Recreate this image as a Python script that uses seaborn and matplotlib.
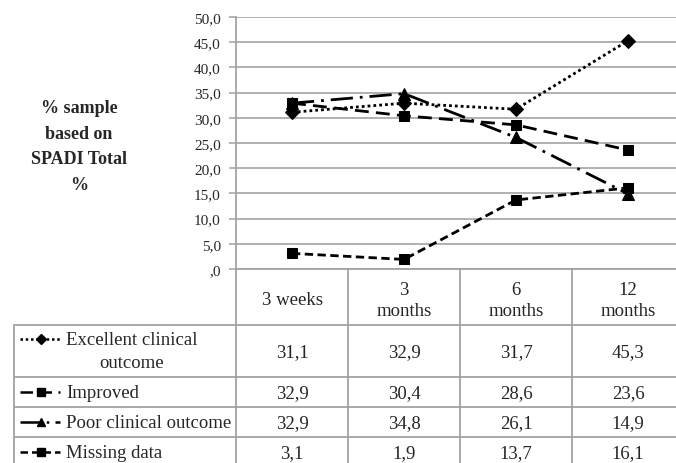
import numpy as np
import pandas as pd
import matplotlib
matplotlib.use("Agg")
import matplotlib.pyplot as plt
from matplotlib.lines import Line2D
import seaborn as sns

# ---- data ----
categories = ["3 weeks", "3\nmonths", "6\nmonths", "12\nmonths"]
series_names = ["Excellent clinical\noutcome", "Improved", "Poor clinical outcome", "Missing data"]
excellent = [31.1, 32.9, 31.7, 45.3]
improved = [32.9, 30.4, 28.6, 23.6]
poor = [32.9, 34.8, 26.1, 14.9]
missing = [3.1, 1.9, 13.7, 16.1]
ytick_values = [0, 5, 10, 15, 20, 25, 30, 35, 40, 45, 50]
ytick_labels = [",0", "5,0", "10,0", "15,0", "20,0", "25,0", "30,0", "35,0", "40,0", "45,0", "50,0"]
ylabel_text = "% sample\nbased on\nSPADI Total\n%"

values = [excellent, improved, poor, missing]
keys = ["exc", "imp", "poor", "miss"]
df = pd.DataFrame({
    "pos": np.tile(np.arange(len(categories)), len(keys)),
    "value": np.concatenate(values),
    "series": np.repeat(keys, len(categories)),
})

sns.set_style("white")
plt.rcParams["font.family"] = ["Liberation Serif", "DejaVu Serif"]

W, H = 676, 464
fig = plt.figure(figsize=(W / 100, H / 100), dpi=100)
GRAY = "#a3a3a3"

# plot area (pixel geometry of the reference)
x0, x1, ytop, ybot = 236, 684, 18, 270
ax = fig.add_axes([x0 / W, (H - ybot) / H, (x1 - x0) / W, (ybot - ytop) / H])

dash_map = {"exc": (1, 1.1), "imp": (5, 2.6), "poor": (8, 2.5, 1, 2.5), "miss": (3, 1.6)}
marker_map = {"exc": "D", "imp": "s", "poor": "^", "miss": "s"}
msize = {"exc": 7, "imp": 7, "poor": 8, "miss": 7}
LW = 2.0

sns.lineplot(data=df, x="pos", y="value", hue="series", style="series",
             palette=["black"] * 4, dashes=dash_map, markers=marker_map,
             markersize=7, markeredgecolor="black", lw=LW, legend=False, ax=ax)
for line, k in zip(ax.get_lines(), keys):
    line.set_markersize(msize[k])

ax.set_xlim(-0.5, len(categories) - 0.5)
ax.set_ylim(0, 50)
ax.set_yticks(ytick_values)
ax.set_yticklabels(ytick_labels, fontsize=11)
ax.set_xticks([])
ax.set_xlabel("")
ax.set_ylabel("")
ax.yaxis.grid(True, color=GRAY, lw=1.2)
ax.xaxis.grid(False)
ax.tick_params(axis="y", length=5, width=1.1, color=GRAY, direction="out", pad=6, left=True)
for s in ["top", "right"]:
    ax.spines[s].set_visible(False)
for s in ["left", "bottom"]:
    ax.spines[s].set_color(GRAY)
    ax.spines[s].set_linewidth(1.3)

fig.text(79 / W, 1 - 147 / H, ylabel_text, ha="center", va="center",
         fontsize=13, fontweight="bold", linespacing=1.65)

# ---- data table drawn beneath the plot ----
tx = fig.add_axes([0, 0, 1, 1], zorder=-1)
tx.set_xlim(0, W)
tx.set_ylim(H, 0)
tx.axis("off")

col_edges = [ax.transData.transform((i - 0.5, 0))[0] for i in range(len(categories) + 1)]
col_centers = [(a + b) / 2 for a, b in zip(col_edges[:-1], col_edges[1:])]
left_edge = 14
header = (270, 326)
rows = [(326, 378), (378, 408), (408, 438), (438, 468)]

tcol = GRAY
tlw = 1.3
# horizontal lines
for (top, _b) in rows:
    tx.plot([left_edge, col_edges[-1]], [top, top], color=tcol, lw=tlw)
tx.plot([left_edge, col_edges[-1]], [rows[-1][1], rows[-1][1]], color=tcol, lw=tlw)
# vertical lines
for xe in col_edges:
    tx.plot([xe, xe], [header[0], H + 10], color=tcol, lw=tlw)
tx.plot([left_edge, left_edge], [header[1], H + 10], color=tcol, lw=tlw)

FS = 13.5
for xc, lab in zip(col_centers, categories):
    tx.text(xc, 301, lab, ha="center", va="center",
            fontsize=FS, linespacing=1.25)

for (top, bot), name, vals, k in zip(rows, series_names, values, keys):
    yc = (top + bot) / 2
    for xc, v in zip(col_centers, vals):
        tx.text(xc, yc + 1, f"{v:.1f}".replace(".", ","), ha="center", va="center", fontsize=FS)
    # legend key
    ky = yc if k != "exc" else 340
    key = Line2D([20, 41, 60], [ky, ky, ky], color="black", lw=LW * 0.9,
                 dashes=dash_map[k], marker=marker_map[k], markevery=[1],
                 markersize=msize[k] * 0.8, markeredgecolor="black")
    tx.add_line(key)
    if k == "exc":
        tx.text(66, 352, name, ha="left", va="center", fontsize=FS,
                multialignment="center", linespacing=1.4)
    else:
        tx.text(66, yc + 1, name, ha="left", va="center", fontsize=FS)

fig.savefig("out.png", dpi=100)
